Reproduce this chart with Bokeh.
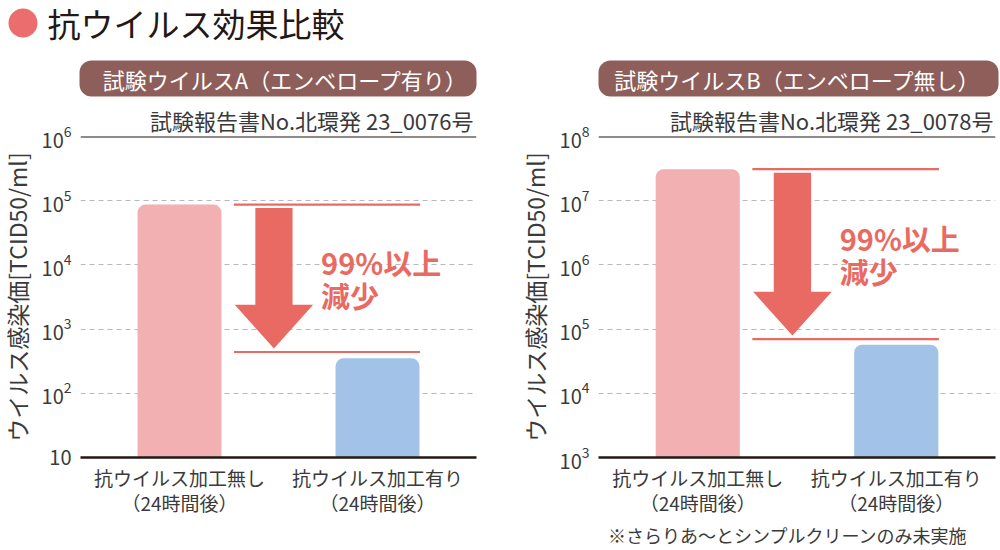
from bokeh.plotting import figure
from bokeh.models import (FactorRange, Range1d, FixedTicker, LogTickFormatter, Span)
from bokeh.layouts import column, row
from bokeh.core.properties import value
from bokeh.embed import file_html
from bokeh.resources import INLINE

# ---------------- data ----------------
categories = ["抗ウイルス加工無し\n（24時間後）", "抗ウイルス加工有り\n（24時間後）"]
virus_a_values = [8.7e4, 3.5e2]
virus_b_values = [3.1e7, 5.7e4]
virus_a_ref_lines = [8.7e4, 4.4e2]
virus_b_ref_lines = [3.1e7, 7.0e4]
virus_a_ticks = [1e1, 1e2, 1e3, 1e4, 1e5, 1e6]
virus_b_ticks = [1e3, 1e4, 1e5, 1e6, 1e7, 1e8]
bar_colors = ["#f2b0b3", "#a2c3e7"]
main_title = "抗ウイルス効果比較"
panel_titles = ["試験ウイルスA（エンベロープ有り）", "試験ウイルスB（エンベロープ無し）"]
report_numbers = ["試験報告書No.北環発 23_0076号", "試験報告書No.北環発 23_0078号"]
y_axis_title = "ウイルス感染価[TCID50/ml]"
reduction_text = ["99%以上", "減少"]
footnote = "※さらりあ～とシンプルクリーンのみ未実施"

FONT = "Noto Sans CJK JP"
RED = "#e96a62"
DARK = "#231815"
TXT = "#3a3a3a"

# ---------------- header ----------------
header = figure(width=1000, height=101, x_range=Range1d(0, 1000), y_range=Range1d(101, 0),
                x_axis_type=None, y_axis_type=None, toolbar_location=None,
                output_backend="svg", min_border=0, outline_line_color=None)
header.grid.visible = False
header.circle(x=[22.5], y=[22.5], radius=14.5, fill_color="#ec6d6e", line_color=None)
header.text(x=[47], y=[22], text=[main_title], text_font=value(FONT), text_font_size="33px",
            text_baseline="middle", text_align="left", text_color=DARK)
header.quad(left=[79, 598], right=[476, 998], top=[60, 60], bottom=[96, 96],
            border_radius=12, fill_color="#8e5e5a", line_color=None)
header.text(x=[285, 797], y=[78, 78], text=panel_titles, text_font=value(FONT),
            text_font_size="22px", text_baseline="middle", text_align="center",
            text_color="white")


def make_panel(values, ref_lines, ticks, report, width, border_left, border_right, margin,
               title_offset):
    p = figure(width=width, height=418, x_range=FactorRange(*categories, start=0, end=2),
               y_range=Range1d(ticks[0], ticks[-1]), y_axis_type="log",
               toolbar_location=None, output_backend="svg",
               min_border_left=border_left, min_border_right=border_right,
               min_border_top=33, min_border_bottom=61, outline_line_color=None,
               margin=margin)
    p.title.text = report
    p.title.align = "right"
    p.title.offset = title_offset
    p.title.standoff = 1
    p.title.text_font = FONT
    p.title.text_font_size = "22px"
    p.title.text_font_style = "normal"
    p.title.text_color = TXT
    p.vbar(x=categories, top=values, bottom=ticks[0], width=0.424, fill_color=bar_colors,
           line_color=None, border_radius=(8, 8, 0, 0))
    # reference lines
    x0 = 0.775
    x1 = 1.715
    p.segment(x0=[x0, x0], x1=[x1, x1], y0=ref_lines, y1=ref_lines,
              line_color=RED, line_width=2.2)
    # arrow derived from reference lines
    top = ref_lines[0] * 10 ** (-0.055)
    tip = ref_lines[1] * 10 ** (0.055)
    hs = tip * 10 ** (0.68)
    c, sw, hw = 0.977, 0.094, 0.198
    p.patch(x=[c - sw, c + sw, c + sw, c + hw, c, c - hw, c - sw],
            y=[top, top, hs, hs, tip, hs, hs], fill_color=RED, line_color=None)
    mid = (ref_lines[0] * ref_lines[1]) ** 0.5
    p.text(x=[1.215, 1.215], y=[mid * 10 ** 0.258, mid * 10 ** (-0.258)], text=reduction_text,
           text_font=value(FONT), text_font_style="bold", text_font_size="29px",
           text_baseline="middle", text_align="left", text_color=RED)
    # top black line
    p.add_layout(Span(location=ticks[-1], dimension="width", line_color=DARK, line_width=2.2))
    # axes
    p.yaxis.ticker = FixedTicker(ticks=ticks)
    p.yaxis.formatter = LogTickFormatter(min_exponent=1)
    p.yaxis.major_label_overrides = {10: "10"}
    p.yaxis.axis_line_color = None
    p.yaxis.major_tick_line_color = None
    p.yaxis.minor_tick_line_color = None
    p.yaxis.major_label_standoff = 3
    p.yaxis.major_label_text_font = FONT
    p.yaxis.major_label_text_font_size = "20px"
    p.yaxis.major_label_text_color = TXT
    p.yaxis.axis_label = y_axis_title
    p.yaxis.axis_label_standoff = 5
    p.yaxis.axis_label_text_font = FONT
    p.yaxis.axis_label_text_font_size = "23px"
    p.yaxis.axis_label_text_font_style = "normal"
    p.yaxis.axis_label_text_color = TXT
    p.xaxis.axis_line_color = DARK
    p.xaxis.axis_line_width = 2.5
    p.xaxis.major_tick_line_color = None
    p.xaxis.minor_tick_line_color = None
    p.xaxis.major_label_standoff = 0
    p.xaxis.major_label_text_font = FONT
    p.xaxis.major_label_text_font_size = "19px"
    p.xaxis.major_label_text_color = TXT
    p.xaxis.major_label_text_line_height = 0.95
    p.xgrid.visible = False
    p.ygrid.ticker = FixedTicker(ticks=ticks)
    p.ygrid.grid_line_color = "#b8b8b8"
    p.ygrid.grid_line_dash = "5 4"
    p.ygrid.grid_line_width = 1
    return p


left = make_panel(virus_a_values, virus_a_ref_lines, virus_a_ticks, report_numbers[0],
                  504, 84, 24, (0, 0, 0, -4), 3)
right = make_panel(virus_b_values, virus_b_ref_lines, virus_b_ticks, report_numbers[1],
                   500, 98, 5, 0, 2)

footer = figure(width=1000, height=31, x_range=Range1d(0, 1000), y_range=Range1d(550, 519),
                x_axis_type=None, y_axis_type=None, toolbar_location=None,
                output_backend="svg", min_border=0, outline_line_color=None)
footer.grid.visible = False
footer.text(x=[787.5], y=[534], text=[footnote], text_font=value(FONT), text_font_size="18px",
            text_baseline="middle", text_align="center", text_color=TXT)

layout = column(header, row(left, right), footer)
open("out.html", "w").write(file_html(layout, INLINE))
